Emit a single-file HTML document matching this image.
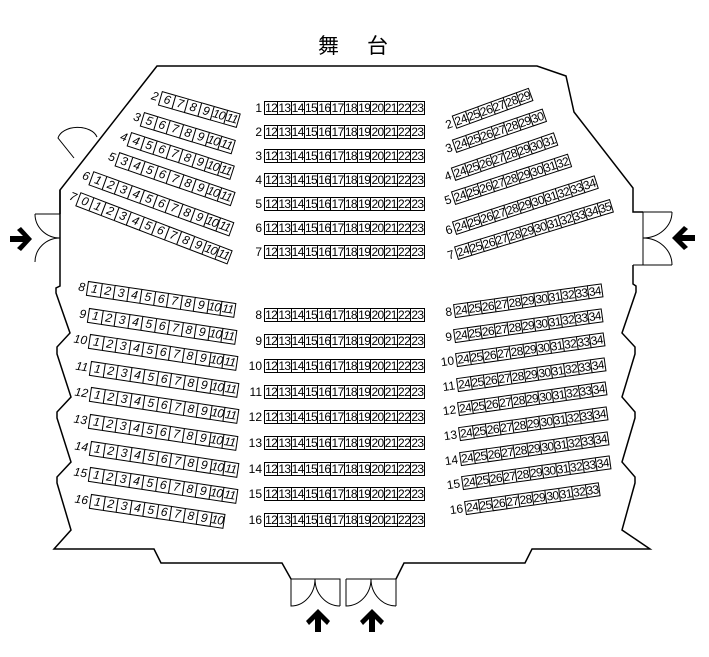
<!DOCTYPE html>
<html><head><meta charset="utf-8"><style>
html,body{margin:0;padding:0;background:#fff}
#c{position:relative;width:709px;height:657px;overflow:hidden;font-family:"Liberation Sans Narrow","Liberation Sans",sans-serif}
svg{position:absolute;left:0;top:0}
.r{position:absolute;height:0;display:flex;align-items:center;transform-origin:0 0;white-space:nowrap}
.r b{display:block;box-sizing:border-box;width:14.5px;height:14px;border:1px solid #000;margin-left:-1px;font-weight:normal;font-size:12px;line-height:12px;text-align:center;letter-spacing:-0.6px;color:#000;background:#fff}
.r i{position:absolute;right:100%;top:-7px;line-height:14px;font-size:12px;padding-right:3px;font-style:normal}
.c b{width:14.3px}
.L b,.L i{font-style:italic}
.L b{height:15px;width:14.5px}
.t{position:absolute;top:30px;font-family:"Liberation Sans","Noto Sans CJK JP",sans-serif;font-size:21px}
</style></head><body><div id="c">
<svg width="709" height="657" viewBox="0 0 709 657" fill="none" stroke="#000" stroke-width="1.5">
<path d="M60,214 L60,190 L157,66 L537,66 L566,76 L574,112 L633,188 L633,212 L643,212"/>
<path d="M643,212 L643,265 M633,265 L672,265 M643,212 L672,212" stroke-width="1"/>
<path d="M672,212 A29,26 0 0 1 643,238 A29,27 0 0 1 672,265" stroke-width="1"/>
<path d="M633,265 L633,284 L636,286 L636,292 L622,333 L635,347 L635,354 L622,397 L635,412 L635,418 L622,462 L635,477 L635,483 L622,530 L650,549 L532,549 L525,563 L404,563 L396,579"/>
<path d="M60,190 L60,286 L56,288 L56,293 L70,333 L57,347 L57,354 L71,397 L57,412 L57,418 L71,462 L57,477 L57,483 L71,530 L54,549 L154,549 L161,563 L282,563 L291,579"/>
<path d="M35,214 L60,214 M35,214 A25,24 0 0 0 60,238 A25,24 0 0 0 35,262" stroke-width="1"/>
<path d="M97,137 A20,13 0 0 0 58,138 L74,158" stroke-width="1"/>
<path d="M291,579 L340,579 L340,606 M291,579 L291,606 A24,27 0 0 0 315,579 A25,27 0 0 0 340,606 M346,579 L396,579 L396,606 M346,579 L346,606 A25,27 0 0 0 371,579 A25,27 0 0 0 396,606" stroke-width="1"/>
<g fill="#000" stroke="none">
<path d="M10,236 L23,236 L17,230 L21,227 L32,239 L21,251 L17,248 L23,242 L10,242 Z"/>
<path d="M695,235 L682,235 L688,229 L684,226 L672,238 L684,250 L688,247 L682,241 L695,241 Z"/>
<path d="M315,632 L315,619 L309,625 L306,621 L318,609 L330,621 L327,625 L321,619 L321,632 Z"/>
<path d="M369,632 L369,619 L363,625 L360,621 L372,609 L384,621 L381,625 L375,619 L375,632 Z"/>
</g>
</svg>
<div class="t" style="left:318px">舞</div><div class="t" style="left:367px">台</div>

<div class="r c" style="left:265px;top:108px"><i>1</i><b>12</b><b>13</b><b>14</b><b>15</b><b>16</b><b>17</b><b>18</b><b>19</b><b>20</b><b>21</b><b>22</b><b>23</b></div>
<div class="r c" style="left:265px;top:132px"><i>2</i><b>12</b><b>13</b><b>14</b><b>15</b><b>16</b><b>17</b><b>18</b><b>19</b><b>20</b><b>21</b><b>22</b><b>23</b></div>
<div class="r c" style="left:265px;top:156px"><i>3</i><b>12</b><b>13</b><b>14</b><b>15</b><b>16</b><b>17</b><b>18</b><b>19</b><b>20</b><b>21</b><b>22</b><b>23</b></div>
<div class="r c" style="left:265px;top:180px"><i>4</i><b>12</b><b>13</b><b>14</b><b>15</b><b>16</b><b>17</b><b>18</b><b>19</b><b>20</b><b>21</b><b>22</b><b>23</b></div>
<div class="r c" style="left:265px;top:204px"><i>5</i><b>12</b><b>13</b><b>14</b><b>15</b><b>16</b><b>17</b><b>18</b><b>19</b><b>20</b><b>21</b><b>22</b><b>23</b></div>
<div class="r c" style="left:265px;top:228px"><i>6</i><b>12</b><b>13</b><b>14</b><b>15</b><b>16</b><b>17</b><b>18</b><b>19</b><b>20</b><b>21</b><b>22</b><b>23</b></div>
<div class="r c" style="left:265px;top:252px"><i>7</i><b>12</b><b>13</b><b>14</b><b>15</b><b>16</b><b>17</b><b>18</b><b>19</b><b>20</b><b>21</b><b>22</b><b>23</b></div>
<div class="r c" style="left:265px;top:315px"><i>8</i><b>12</b><b>13</b><b>14</b><b>15</b><b>16</b><b>17</b><b>18</b><b>19</b><b>20</b><b>21</b><b>22</b><b>23</b></div>
<div class="r c" style="left:265px;top:341px"><i>9</i><b>12</b><b>13</b><b>14</b><b>15</b><b>16</b><b>17</b><b>18</b><b>19</b><b>20</b><b>21</b><b>22</b><b>23</b></div>
<div class="r c" style="left:265px;top:366px"><i>10</i><b>12</b><b>13</b><b>14</b><b>15</b><b>16</b><b>17</b><b>18</b><b>19</b><b>20</b><b>21</b><b>22</b><b>23</b></div>
<div class="r c" style="left:265px;top:392px"><i>11</i><b>12</b><b>13</b><b>14</b><b>15</b><b>16</b><b>17</b><b>18</b><b>19</b><b>20</b><b>21</b><b>22</b><b>23</b></div>
<div class="r c" style="left:265px;top:417px"><i>12</i><b>12</b><b>13</b><b>14</b><b>15</b><b>16</b><b>17</b><b>18</b><b>19</b><b>20</b><b>21</b><b>22</b><b>23</b></div>
<div class="r c" style="left:265px;top:443px"><i>13</i><b>12</b><b>13</b><b>14</b><b>15</b><b>16</b><b>17</b><b>18</b><b>19</b><b>20</b><b>21</b><b>22</b><b>23</b></div>
<div class="r c" style="left:265px;top:469px"><i>14</i><b>12</b><b>13</b><b>14</b><b>15</b><b>16</b><b>17</b><b>18</b><b>19</b><b>20</b><b>21</b><b>22</b><b>23</b></div>
<div class="r c" style="left:265px;top:494px"><i>15</i><b>12</b><b>13</b><b>14</b><b>15</b><b>16</b><b>17</b><b>18</b><b>19</b><b>20</b><b>21</b><b>22</b><b>23</b></div>
<div class="r c" style="left:265px;top:520px"><i>16</i><b>12</b><b>13</b><b>14</b><b>15</b><b>16</b><b>17</b><b>18</b><b>19</b><b>20</b><b>21</b><b>22</b><b>23</b></div>

<div class="r L" style="left:161px;top:98px;transform:rotate(16deg)"><i>2</i><b>6</b><b>7</b><b>8</b><b>9</b><b>10</b><b>11</b></div>
<div class="r L" style="left:143px;top:119px;transform:rotate(17deg)"><i>3</i><b>5</b><b>6</b><b>7</b><b>8</b><b>9</b><b>10</b><b>11</b></div>
<div class="r L" style="left:130px;top:139px;transform:rotate(18deg)"><i>4</i><b>4</b><b>5</b><b>6</b><b>7</b><b>8</b><b>9</b><b>10</b><b>11</b></div>
<div class="r L" style="left:118px;top:159px;transform:rotate(19deg)"><i>5</i><b>3</b><b>4</b><b>5</b><b>6</b><b>7</b><b>8</b><b>9</b><b>10</b><b>11</b></div>
<div class="r L" style="left:92px;top:178px;transform:rotate(20deg)"><i>6</i><b>1</b><b>2</b><b>3</b><b>4</b><b>5</b><b>6</b><b>7</b><b>8</b><b>9</b><b>10</b><b>11</b></div>
<div class="r L" style="left:79px;top:199px;transform:rotate(21deg)"><i>7</i><b>0</b><b>1</b><b>2</b><b>3</b><b>4</b><b>5</b><b>6</b><b>7</b><b>8</b><b>9</b><b>10</b><b>11</b></div>

<div class="r L" style="left:88px;top:288px;transform:rotate(8.5deg)"><i>8</i><b>1</b><b>2</b><b>3</b><b>4</b><b>5</b><b>6</b><b>7</b><b>8</b><b>9</b><b>10</b><b>11</b></div>
<div class="r L" style="left:89px;top:315px;transform:rotate(8.5deg)"><i>9</i><b>1</b><b>2</b><b>3</b><b>4</b><b>5</b><b>6</b><b>7</b><b>8</b><b>9</b><b>10</b><b>11</b></div>
<div class="r L" style="left:90px;top:341px;transform:rotate(8.5deg)"><i>10</i><b>1</b><b>2</b><b>3</b><b>4</b><b>5</b><b>6</b><b>7</b><b>8</b><b>9</b><b>10</b><b>11</b></div>
<div class="r L" style="left:91px;top:368px;transform:rotate(8.5deg)"><i>11</i><b>1</b><b>2</b><b>3</b><b>4</b><b>5</b><b>6</b><b>7</b><b>8</b><b>9</b><b>10</b><b>11</b></div>
<div class="r L" style="left:91px;top:394px;transform:rotate(8.5deg)"><i>12</i><b>1</b><b>2</b><b>3</b><b>4</b><b>5</b><b>6</b><b>7</b><b>8</b><b>9</b><b>10</b><b>11</b></div>
<div class="r L" style="left:90px;top:421px;transform:rotate(8.5deg)"><i>13</i><b>1</b><b>2</b><b>3</b><b>4</b><b>5</b><b>6</b><b>7</b><b>8</b><b>9</b><b>10</b><b>11</b></div>
<div class="r L" style="left:91px;top:448px;transform:rotate(8.5deg)"><i>14</i><b>1</b><b>2</b><b>3</b><b>4</b><b>5</b><b>6</b><b>7</b><b>8</b><b>9</b><b>10</b><b>11</b></div>
<div class="r L" style="left:90px;top:474px;transform:rotate(8.5deg)"><i>15</i><b>1</b><b>2</b><b>3</b><b>4</b><b>5</b><b>6</b><b>7</b><b>8</b><b>9</b><b>10</b><b>11</b></div>
<div class="r L" style="left:91px;top:501px;transform:rotate(8.5deg)"><i>16</i><b>1</b><b>2</b><b>3</b><b>4</b><b>5</b><b>6</b><b>7</b><b>8</b><b>9</b><b>10</b></div>

<div class="r" style="left:455px;top:122px;transform:rotate(-20deg)"><i>2</i><b>24</b><b>25</b><b>26</b><b>27</b><b>28</b><b>29</b></div>
<div class="r" style="left:455px;top:146px;transform:rotate(-19deg)"><i>3</i><b>24</b><b>25</b><b>26</b><b>27</b><b>28</b><b>29</b><b>30</b></div>
<div class="r" style="left:454px;top:174px;transform:rotate(-19deg)"><i>4</i><b>24</b><b>25</b><b>26</b><b>27</b><b>28</b><b>29</b><b>30</b><b>31</b></div>
<div class="r" style="left:454px;top:198px;transform:rotate(-18deg)"><i>5</i><b>24</b><b>25</b><b>26</b><b>27</b><b>28</b><b>29</b><b>30</b><b>31</b><b>32</b></div>
<div class="r" style="left:455px;top:228px;transform:rotate(-18deg)"><i>6</i><b>24</b><b>25</b><b>26</b><b>27</b><b>28</b><b>29</b><b>30</b><b>31</b><b>32</b><b>33</b><b>34</b></div>
<div class="r" style="left:457px;top:253px;transform:rotate(-17deg)"><i>7</i><b>24</b><b>25</b><b>26</b><b>27</b><b>28</b><b>29</b><b>30</b><b>31</b><b>32</b><b>33</b><b>34</b><b>35</b></div>

<div class="r" style="left:455px;top:311px;transform:rotate(-8deg)"><i>8</i><b>24</b><b>25</b><b>26</b><b>27</b><b>28</b><b>29</b><b>30</b><b>31</b><b>32</b><b>33</b><b>34</b></div>
<div class="r" style="left:455px;top:336px;transform:rotate(-8deg)"><i>9</i><b>24</b><b>25</b><b>26</b><b>27</b><b>28</b><b>29</b><b>30</b><b>31</b><b>32</b><b>33</b><b>34</b></div>
<div class="r" style="left:457px;top:360px;transform:rotate(-8deg)"><i>10</i><b>24</b><b>25</b><b>26</b><b>27</b><b>28</b><b>29</b><b>30</b><b>31</b><b>32</b><b>33</b><b>34</b></div>
<div class="r" style="left:458px;top:385px;transform:rotate(-8deg)"><i>11</i><b>24</b><b>25</b><b>26</b><b>27</b><b>28</b><b>29</b><b>30</b><b>31</b><b>32</b><b>33</b><b>34</b></div>
<div class="r" style="left:459px;top:409px;transform:rotate(-8deg)"><i>12</i><b>24</b><b>25</b><b>26</b><b>27</b><b>28</b><b>29</b><b>30</b><b>31</b><b>32</b><b>33</b><b>34</b></div>
<div class="r" style="left:460px;top:434px;transform:rotate(-8deg)"><i>13</i><b>24</b><b>25</b><b>26</b><b>27</b><b>28</b><b>29</b><b>30</b><b>31</b><b>32</b><b>33</b><b>34</b></div>
<div class="r" style="left:461px;top:459px;transform:rotate(-8deg)"><i>14</i><b>24</b><b>25</b><b>26</b><b>27</b><b>28</b><b>29</b><b>30</b><b>31</b><b>32</b><b>33</b><b>34</b></div>
<div class="r" style="left:463px;top:483px;transform:rotate(-8deg)"><i>15</i><b>24</b><b>25</b><b>26</b><b>27</b><b>28</b><b>29</b><b>30</b><b>31</b><b>32</b><b>33</b><b>34</b></div>
<div class="r" style="left:466px;top:508px;transform:rotate(-8deg)"><i>16</i><b>24</b><b>25</b><b>26</b><b>27</b><b>28</b><b>29</b><b>30</b><b>31</b><b>32</b><b>33</b></div>
</div></body></html>
